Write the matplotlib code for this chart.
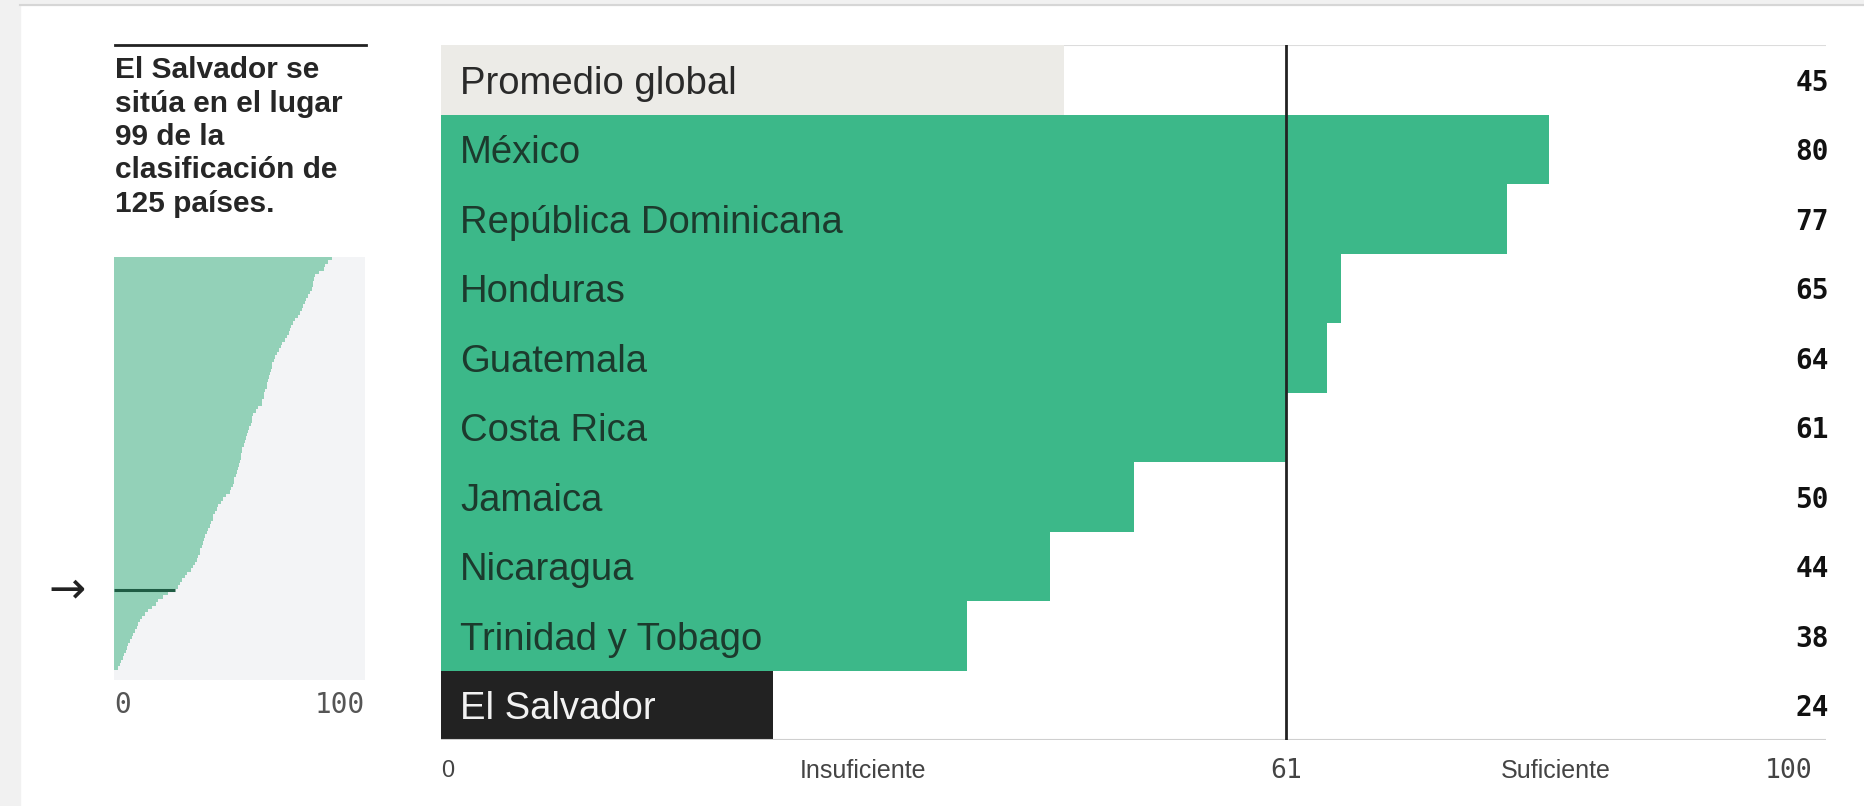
import matplotlib
matplotlib.use("Agg")
import matplotlib.pyplot as plt
from matplotlib.lines import Line2D
from matplotlib.patches import Rectangle
from matplotlib import transforms

plt.rcParams['font.family'] = ['Liberation Sans', 'DejaVu Sans']

### data ###
countries = ["Promedio global", "México", "República Dominicana", "Honduras",
             "Guatemala", "Costa Rica", "Jamaica", "Nicaragua",
             "Trinidad y Tobago", "El Salvador"]
scores = [45, 80, 77, 65, 64, 61, 50, 44, 38, 24]
threshold = 61
zone_labels = ["Insuficiente", "Suficiente"]

note_lines = ["El Salvador se", "sitúa en el lugar", "99 de la",
              "clasificación de", "125 países."]

# all 125 countries, sorted by score
rank_scores = [
    86.6, 85.3, 84.0, 83.5, 81.5, 80.0, 79.5, 79.3, 79.0, 78.6,
    78.0, 77.3, 76.5, 76.0, 75.0, 74.6, 74.0, 73.0, 72.0, 71.0,
    70.5, 70.0, 69.5, 69.0, 68.0, 67.0, 66.5, 65.5, 65.0, 64.0,
    63.5, 63.0, 62.7, 62.3, 62.0, 61.8, 61.4, 61.0, 60.7, 60.2,
    59.8, 59.5, 59.0, 58.7, 57.4, 56.5, 55.4, 55.0, 54.7, 54.5,
    53.8, 53.4, 53.0, 52.5, 52.1, 51.8, 51.0, 50.7, 50.5, 50.3,
    50.0, 49.6, 49.2, 48.8, 48.3, 47.8, 47.5, 47.2, 46.5, 46.0,
    44.5, 43.5, 42.5, 41.5, 40.8, 40.0, 39.5, 39.2, 38.5, 38.0,
    37.5, 37.0, 36.3, 35.8, 35.2, 34.8, 34.3, 34.0, 33.5, 32.8,
    32.3, 31.5, 30.5, 29.0, 28.0, 27.0, 26.2, 25.5, 24.0, 21.5,
    19.5, 17.5, 16.5, 15.0, 13.5, 12.2, 11.0, 10.2, 9.6, 8.9,
    8.2, 7.6, 6.9, 6.2, 5.6, 5.0, 4.6, 4.0, 3.6, 2.8,
    2.3, 1.5, 0.0, 0.0, 0.0,
]
sv_rank = 99
sv_score = 24

### colours ###
green = '#3cb889'
light_green = '#93d1b8'
avg_grey = '#ecebe7'
dark = '#222222'

W, H = 1865, 806
fig = plt.figure(figsize=(W / 100, H / 100), dpi=100)
fig.patch.set_facecolor('white')

## screenshot frame
fig.patches.append(Rectangle((0, 0), 20 / W, 1, transform=fig.transFigure,
                             color='#f1f1f1', zorder=0))
fig.patches.append(Rectangle((0, 1 - 5 / H), 1, 5 / H, transform=fig.transFigure,
                             color='#f1f1f1', zorder=0))
fig.add_artist(Line2D([20 / W, 1], [1 - 5 / H] * 2, color='#d6d6d6', lw=1.5))

### main bar chart ###
ax = fig.add_axes([441 / W, 1 - 740 / H, 1385 / W, 695 / H])
n = len(countries)
ypos = list(range(n))
colors = [avg_grey] + [green] * (n - 2) + [dark]
ax.barh(ypos, scores, height=1.0, color=colors, linewidth=0, zorder=2)
ax.set_xlim(0, 100)
ax.set_ylim(n - 0.5, -0.5)
ax.axis('off')

ax.axhline(-0.5, color='#dcdcdc', lw=1.5, zorder=1)
ax.axhline(n - 0.5, color='#cfcfcf', lw=1.5, zorder=3)
ax.axvline(threshold, color=dark, lw=2, zorder=4)

label_tr = transforms.offset_copy(ax.transData, fig=fig, x=19, y=0, units='dots')
for i, (name, val) in enumerate(zip(countries, scores)):
    if i == 0:
        tc = '#2a2a2a'
    elif i == n - 1:
        tc = '#f2f2f2'
    else:
        tc = '#1c3a2d'
    ax.text(0, i, name, transform=label_tr, ha='left', va='center_baseline',
            fontsize=27.5, color=tc, zorder=5)
    ax.text(100.2, i, str(val), ha='right', va='center_baseline',
            fontsize=20, fontweight='bold', family='DejaVu Sans Mono',
            color='#111111', zorder=5)

## axis labels under the chart
xt = ax.get_xaxis_transform()
ty = -31 / 695
ax.text(0, ty, "0", transform=xt, ha='left', va='center', fontsize=17, color='#444444')
ax.text(threshold / 2, ty, zone_labels[0], transform=xt, ha='center', va='center',
        fontsize=18, color='#444444')
ax.text(threshold, ty, str(threshold), transform=xt, ha='center', va='center',
        fontsize=19, family='DejaVu Sans Mono', color='#444444')
ax.text((threshold + 100) / 2, ty, zone_labels[1], transform=xt, ha='center',
        va='center', fontsize=18, color='#444444')
ax.text(99, ty, "100", transform=xt, ha='right', va='center',
        fontsize=19, family='DejaVu Sans Mono', color='#444444')

### left note ###
fig.add_artist(Line2D([115 / W, 366 / W], [1 - 45 / H] * 2, color=dark, lw=2))
for k, line in enumerate(note_lines):
    fig.text(115 / W, 1 - (78.3 + k * 33.3) / H, line, ha='left', va='baseline',
             fontsize=21.5, fontweight='bold', color='#262626')

### small ranking strip ###
ax2 = fig.add_axes([114.3 / W, 1 - 680 / H, 251 / W, 423 / H])
ax2.set_facecolor('#f3f4f6')
ranks = list(range(1, len(rank_scores) + 1))
ax2.barh(ranks, rank_scores, height=1.0, color=light_green, linewidth=0)
ax2.plot([0, sv_score], [sv_rank, sv_rank], color='#1f5c44', lw=2.2,
         solid_capstyle='butt')
ax2.set_xlim(0, 100)
ax2.set_ylim(len(rank_scores) + 0.5, 0.5)
ax2.set_xticks([])
ax2.set_yticks([])
for sp in ax2.spines.values():
    sp.set_visible(False)

ax2.text(-66 / 251, sv_rank, "→", transform=ax2.get_yaxis_transform(),
         ha='left', va='center', fontsize=32, family='DejaVu Sans', color='#222222')
xt2 = ax2.get_xaxis_transform()
ax2.text(0, -25 / 423, "0", transform=xt2, ha='left', va='center',
         fontsize=20, family='DejaVu Sans Mono', color='#555555')
ax2.text(100, -25 / 423, "100", transform=xt2, ha='right', va='center',
         fontsize=20, family='DejaVu Sans Mono', color='#555555')

plt.savefig("out.png", dpi=100)
